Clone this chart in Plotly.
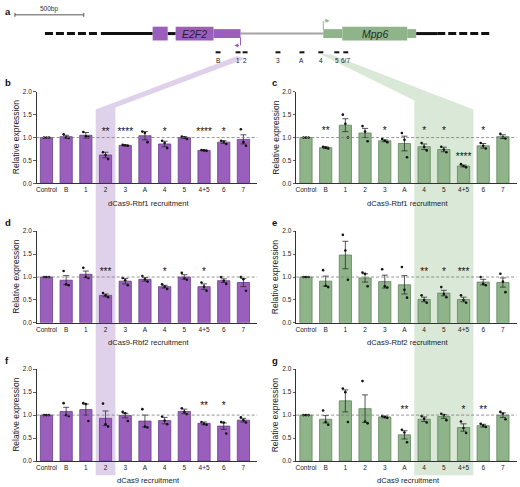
import plotly.graph_objects as go

W, H = 520, 487

categories = ["Control", "B", "1", "2", "3", "A", "4", "5", "4+5", "6", "7"]

# ---- panel b : dCas9-Rbf1, E2F2 ----
b_mean = [1.0, 1.02, 1.05, 0.62, 0.83, 1.04, 0.86, 1.0, 0.72, 0.90, 0.96]
b_sem = [0.0, 0.03, 0.06, 0.06, 0.01, 0.09, 0.06, 0.02, 0.01, 0.03, 0.10]
b_pts = [[1, 1, 1], [1.07, 1.0, 0.99], [1.12, 1.03, 1.01], [0.68, 0.62, 0.53], [0.84, 0.83, 0.82],
         [1.13, 1.10, 0.90], [0.93, 0.88, 0.77], [1.02, 1.0, 0.97], [0.73, 0.72, 0.71],
         [0.93, 0.91, 0.86], [1.18, 0.90, 0.82]]
b_sig = ["", "", "", "**", "****", "", "*", "", "****", "*", ""]

# ---- panel c : dCas9-Rbf1, Mpp6 ----
c_mean = [1.0, 0.78, 1.27, 1.10, 0.93, 0.87, 0.80, 0.74, 0.38, 0.82, 1.02]
c_sem = [0.0, 0.02, 0.14, 0.10, 0.02, 0.16, 0.06, 0.05, 0.02, 0.05, 0.04]
c_pts = [[1, 1, 1], [0.80, 0.78, 0.76], [1.50, 1.30, 1.00], [1.25, 1.13, 0.92], [0.97, 0.93, 0.90],
         [1.10, 0.95, 0.57], [0.88, 0.80, 0.72], [0.80, 0.74, 0.68], [0.42, 0.38, 0.35],
         [0.88, 0.82, 0.76], [1.08, 1.00, 0.98]]
c_sig = ["", "**", "", "", "*", "", "*", "*", "****", "*", ""]

# ---- panel d : dCas9-Rbf2, E2F2 ----
d_mean = [1.0, 0.93, 1.06, 0.60, 0.91, 0.95, 0.79, 1.0, 0.79, 0.92, 0.88]
d_sem = [0.0, 0.10, 0.07, 0.03, 0.06, 0.04, 0.03, 0.05, 0.06, 0.04, 0.09]
d_pts = [[1, 1, 1], [1.13, 0.84, 0.82], [1.20, 1.00, 0.98], [0.65, 0.60, 0.56], [0.98, 0.93, 0.82],
         [1.02, 0.95, 0.90], [0.84, 0.79, 0.74], [1.09, 0.98, 0.94], [0.88, 0.79, 0.70],
         [1.00, 0.92, 0.85], [1.00, 0.95, 0.70]]
d_sig = ["", "", "", "***", "", "", "*", "", "*", "", ""]

# ---- panel e : dCas9-Rbf2, Mpp6 ----
e_mean = [1.0, 0.91, 1.48, 0.98, 0.90, 0.83, 0.51, 0.65, 0.51, 0.89, 0.88]
e_sem = [0.0, 0.11, 0.30, 0.09, 0.14, 0.20, 0.05, 0.06, 0.05, 0.06, 0.10]
e_pts = [[1, 1, 1], [1.15, 0.81, 0.78], [1.92, 1.58, 0.94], [1.10, 1.07, 0.80], [1.17, 0.80, 0.77],
         [1.22, 0.72, 0.55], [0.60, 0.50, 0.44], [0.78, 0.63, 0.56], [0.60, 0.50, 0.44],
         [1.00, 0.85, 0.82], [1.07, 0.90, 0.67]]
e_sig = ["", "", "", "", "", "", "**", "*", "***", "", ""]

# ---- panel f : dCas9, E2F2 ----
f_mean = [1.0, 1.08, 1.12, 0.93, 0.99, 0.87, 0.88, 1.08, 0.82, 0.76, 0.89]
f_sem = [0.0, 0.09, 0.12, 0.16, 0.05, 0.13, 0.07, 0.05, 0.03, 0.07, 0.04]
f_pts = [[1, 1, 1], [1.26, 1.00, 0.98], [1.26, 1.24, 0.87], [1.25, 0.80, 0.75], [1.07, 1.04, 0.87],
         [1.13, 0.75, 0.73], [0.97, 0.88, 0.80], [1.15, 1.07, 1.02], [0.85, 0.81, 0.79],
         [0.85, 0.84, 0.60], [0.95, 0.89, 0.84]]
f_sig = ["", "", "", "", "", "", "", "", "**", "*", ""]

# ---- panel g : dCas9, Mpp6 ----
g_mean = [1.0, 0.91, 1.31, 1.14, 0.96, 0.57, 0.91, 0.97, 0.73, 0.77, 1.0]
g_sem = [0.0, 0.08, 0.24, 0.30, 0.02, 0.09, 0.05, 0.04, 0.08, 0.03, 0.05]
g_pts = [[1, 1, 1], [1.10, 0.85, 0.79], [1.58, 1.50, 0.85], [1.74, 0.86, 0.82], [0.98, 0.96, 0.94],
         [0.68, 0.62, 0.41], [0.98, 0.92, 0.84], [1.03, 1.00, 0.89], [0.86, 0.72, 0.61],
         [0.81, 0.77, 0.74], [1.07, 1.03, 0.91]]
g_sig = ["", "", "", "", "", "**", "", "", "*", "**", ""]

y_ticks = [0.0, 0.5, 1.0, 1.5, 2.0]
x_titles = ["dCas9-Rbf1 recruitment", "dCas9-Rbf2 recruitment", "dCas9 recruitment"]

# ---- gene diagram (bp) ----
scale_bp = 500
diagram_span_bp = 3768
dashed_segments = [(319, 710), (3167, 3551)]
black_segments = [(725, 1101), (1210, 1268), (3014, 3167)]
gray_segment = (1739, 2340)
e2f2_thick = [(1101, 1210), (1268, 1543)]
e2f2_thin = [(1543, 1739)]
mpp6_thick = [(2478, 2949)]
mpp6_thin = [(2340, 2478), (2949, 3014)]
e2f2_tss_bp = 1739
mpp6_tss_bp = 2340
probe_names = ["B", "1", "2", "3", "A", "4", "5", "6/7"]
probe_bp = [1576, 1721, 1772, 2011, 2185, 2322, 2438, 2503]

PURPLE = "#9a5fbd"
PURPLE_EDGE = "#6a3d8a"
GREEN = "#8fb48a"
GREEN_EDGE = "#5e875a"
PURPLE_BAND = "#e0d1eb"
GREEN_BAND = "#dae8d7"
FONT = "Liberation Sans, Arial, sans-serif"

def py(px):  # pixel row -> paper y
    return 1 - px / H

def pxx(px):
    return px / W

col_px = [(35.7, 256.7), (295.7, 516.7)]
row_px = [(89.0, 182.0), (230.5, 323.5), (370.5, 463.7)]
xr = [-0.5, 10.7]

panels = [
    ("b", b_mean, b_sem, b_pts, b_sig, 0, 0, PURPLE, PURPLE_EDGE, 1.11, {}),
    ("c", c_mean, c_sem, c_pts, c_sig, 0, 1, GREEN, GREEN_EDGE, 1.14, {8: 0.57}),
    ("d", d_mean, d_sem, d_pts, d_sig, 1, 0, PURPLE, PURPLE_EDGE, 1.10, {}),
    ("e", e_mean, e_sem, e_pts, e_sig, 1, 1, GREEN, GREEN_EDGE, 1.09, {}),
    ("f", f_mean, f_sem, f_pts, f_sig, 2, 0, PURPLE, PURPLE_EDGE, 1.19, {}),
    ("g", g_mean, g_sem, g_pts, g_sig, 2, 1, GREEN, GREEN_EDGE, 1.10, {}),
]

fig = go.Figure()
shapes = []
annotations = []
offsets = [-0.13, 0.0, 0.13]
idx = list(range(len(categories)))

for i, (lab, mean, sem, pts, sig, row, col, colr, edge, sig_y, sig_override) in enumerate(panels):
    n = "" if i == 0 else str(i + 1)
    xa, ya = "x" + n, "y" + n
    fig.add_trace(go.Bar(
        x=idx, y=mean, width=0.62, xaxis=xa, yaxis=ya,
        marker=dict(color=colr, line=dict(color=edge, width=0.8)),
        error_y=dict(type="data", array=sem, color="#2b2b2b", thickness=0.8, width=3),
        showlegend=False, hoverinfo="skip"))
    px_, py_ = [], []
    for k, vals in enumerate(pts):
        for j, v in enumerate(vals):
            px_.append(k + offsets[j])
            py_.append(v)
    fig.add_trace(go.Scatter(x=px_, y=py_, mode="markers", xaxis=xa, yaxis=ya,
                             marker=dict(color="#111111", size=2.6), showlegend=False, hoverinfo="skip"))
    sx, sy, st = [], [], []
    for k, s in enumerate(sig):
        if s:
            sx.append(k)
            sy.append(sig_override.get(k, sig_y))
            st.append(s)
    fig.add_trace(go.Scatter(x=sx, y=sy, mode="text", text=st, textposition="middle center",
                             textfont=dict(family=FONT, size=10, color="#111111"),
                             xaxis=xa, yaxis=ya, showlegend=False, hoverinfo="skip"))
    x0p, x1p = col_px[col]
    y0p, y1p = row_px[row]
    fig.layout["xaxis" + n] = dict(
        domain=[pxx(x0p), pxx(x1p)], range=xr, anchor=ya, tickmode="array",
        tickvals=idx, ticktext=categories, ticks="", showline=True, linecolor="#333333",
        linewidth=1, showgrid=False, zeroline=False, fixedrange=True,
        tickfont=dict(family=FONT, size=6.5, color="#222222"))
    fig.layout["yaxis" + n] = dict(
        domain=[py(y1p), py(y0p)], range=[0, 2.0], anchor=xa, tickmode="array",
        tickvals=y_ticks, ticktext=["%.1f" % t for t in y_ticks], ticks="outside",
        ticklen=2.5, tickwidth=0.8, tickcolor="#333333", showline=True, linecolor="#333333",
        linewidth=1, showgrid=False, zeroline=False, fixedrange=True,
        tickfont=dict(family=FONT, size=6.5, color="#222222"))
    shapes.append(dict(type="line", xref=xa + " domain", yref=ya, x0=0, x1=1, y0=1, y1=1,
                       line=dict(color="#7a7a7a", width=0.8, dash="3px,2px"), layer="above"))
    # axis titles and panel letters
    annotations.append(dict(text="Relative expression", textangle=-90, xref="paper", yref="paper",
                            x=pxx(x0p - 21), y=py((y0p + y1p) / 2), xanchor="center", yanchor="middle",
                            showarrow=False, font=dict(family=FONT, size=8.5, color="#222222")))
    annotations.append(dict(text=x_titles[row], xref="paper", yref="paper",
                            x=pxx((x0p + x1p) / 2 + 2), y=py(y1p + 20), xanchor="center", yanchor="middle",
                            showarrow=False, font=dict(family=FONT, size=7.6, color="#222222")))
    annotations.append(dict(text="<b>%s</b>" % lab, xref="paper", yref="paper",
                            x=pxx(2 if col == 0 else 270), y=py(y0p - 9), xanchor="left", yanchor="middle",
                            showarrow=False, font=dict(family=FONT, size=9.5, color="#111111")))

# ---- overlay axis for gene diagram ----
fig.add_trace(go.Scatter(x=[0], y=[0], xaxis="x7", yaxis="y7", mode="markers",
                         marker=dict(opacity=0), showlegend=False, hoverinfo="skip"))
fig.layout["xaxis7"] = dict(domain=[0, 1], range=[0, diagram_span_bp], anchor="y7", visible=False, fixedrange=True)
fig.layout["yaxis7"] = dict(domain=[0, 1], range=[H, 0], anchor="x7", visible=False, fixedrange=True)

LINE_Y = 30
for a, b in dashed_segments:
    shapes.append(dict(type="line", xref="x7", yref="y7", x0=a, x1=b, y0=LINE_Y, y1=LINE_Y,
                       line=dict(color="#111111", width=3, dash="8px,3px")))
for a, b in black_segments:
    shapes.append(dict(type="line", xref="x7", yref="y7", x0=a, x1=b, y0=LINE_Y, y1=LINE_Y,
                       line=dict(color="#111111", width=3)))
shapes.append(dict(type="line", xref="x7", yref="y7", x0=gray_segment[0], x1=gray_segment[1],
                   y0=LINE_Y, y1=LINE_Y, line=dict(color="#a3a3a3", width=2)))
for segs, h, c in [(e2f2_thick, 7, PURPLE), (e2f2_thin, 4.5, PURPLE), (mpp6_thick, 7, GREEN), (mpp6_thin, 4.5, GREEN)]:
    for a, b in segs:
        shapes.append(dict(type="rect", xref="x7", yref="y7", x0=a, x1=b, y0=LINE_Y - h, y1=LINE_Y + h,
                           fillcolor=c, line=dict(width=0)))
# TSS arrows
shapes.append(dict(type="line", xref="x7", yref="y7", x0=e2f2_tss_bp, x1=e2f2_tss_bp, y0=34, y1=42,
                   line=dict(color=PURPLE, width=1)))
annotations.append(dict(x=e2f2_tss_bp - 45, y=42, ax=e2f2_tss_bp, ay=42, xref="x7", yref="y7",
                        axref="x7", ayref="y7", showarrow=True, arrowhead=2, arrowsize=0.8,
                        arrowwidth=1, arrowcolor=PURPLE, text=""))
shapes.append(dict(type="line", xref="x7", yref="y7", x0=mpp6_tss_bp, x1=mpp6_tss_bp, y0=26, y1=17,
                   line=dict(color=GREEN, width=1)))
annotations.append(dict(x=mpp6_tss_bp + 45, y=17, ax=mpp6_tss_bp, ay=17, xref="x7", yref="y7",
                        axref="x7", ayref="y7", showarrow=True, arrowhead=2, arrowsize=0.8,
                        arrowwidth=1, arrowcolor=GREEN, text=""))
annotations.append(dict(text="<i>E2F2</i>", x=1405, y=LINE_Y, xref="x7", yref="y7", showarrow=False,
                        xanchor="center", yanchor="middle",
                        font=dict(family=FONT, size=10.5, color="#2a1a38")))
annotations.append(dict(text="<i>Mpp6</i>", x=2713, y=LINE_Y, xref="x7", yref="y7", showarrow=False,
                        xanchor="center", yanchor="middle",
                        font=dict(family=FONT, size=10.5, color="#1e2a1c")))
# probes
for name, c in zip(probe_names, probe_bp):
    shapes.append(dict(type="line", xref="x7", yref="y7", x0=c - 18, x1=c + 18, y0=49, y1=49,
                       line=dict(color="#111111", width=2)))
    annotations.append(dict(text=name, x=c, y=57, xref="x7", yref="y7", showarrow=False,
                            xanchor="center", yanchor="middle",
                            font=dict(family=FONT, size=6.5, color="#222222")))
# scale bar
sb0 = 101
shapes.append(dict(type="line", xref="x7", yref="y7", x0=sb0, x1=sb0 + scale_bp, y0=11, y1=11,
                   line=dict(color="#555555", width=1)))
for xx in (sb0, sb0 + scale_bp):
    shapes.append(dict(type="line", xref="x7", yref="y7", x0=xx, x1=xx, y0=9, y1=13,
                       line=dict(color="#555555", width=1)))
annotations.append(dict(text="500bp", x=sb0 + scale_bp / 2, y=5, xref="x7", yref="y7", showarrow=False,
                        xanchor="center", yanchor="middle",
                        font=dict(family=FONT, size=6.5, color="#333333")))
annotations.append(dict(text="<b>a</b>", xref="paper", yref="paper", x=pxx(2), y=py(8), xanchor="left",
                        yanchor="middle", showarrow=False, font=dict(family=FONT, size=9.5, color="#111111")))

# ---- connector bands (paper coords, below everything) ----
def cat_px(col, v):
    x0p, x1p = col_px[col]
    return x0p + (v - xr[0]) / (xr[1] - xr[0]) * (x1p - x0p)

def bp_px(bp):
    return bp / diagram_span_bp * W

band_bottom = 478
pl, pr = cat_px(0, 2.5), cat_px(0, 3.5)
p_top1, p_top2 = bp_px(probe_bp[1] - 10), bp_px(probe_bp[2] + 10)
purple_path = "M %f %f L %f %f L %f %f L %f %f L %f %f L %f %f Z" % (
    pxx(pl), py(band_bottom), pxx(pl), py(107), pxx(p_top1), py(53), pxx(p_top2), py(55),
    pxx(pr), py(105), pxx(pr), py(band_bottom))
gl, gr = cat_px(1, 5.5), cat_px(1, 8.5)
g_top1, g_top2 = bp_px(probe_bp[5] - 2), bp_px(probe_bp[5] + 70)
green_path = "M %f %f L %f %f L %f %f L %f %f L %f %f L %f %f Z" % (
    pxx(gl), py(band_bottom), pxx(gl), py(98), pxx(g_top1), py(51), pxx(g_top2), py(51),
    pxx(gr), py(107), pxx(gr), py(band_bottom))
shapes.append(dict(type="path", path=purple_path, xref="paper", yref="paper", fillcolor=PURPLE_BAND,
                   line=dict(width=0), layer="below"))
shapes.append(dict(type="path", path=green_path, xref="paper", yref="paper", fillcolor=GREEN_BAND,
                   line=dict(width=0), layer="below"))

fig.update_layout(width=W, height=H, autosize=False, margin=dict(l=0, r=0, t=0, b=0),
                  paper_bgcolor="white", plot_bgcolor="rgba(0,0,0,0)", shapes=shapes,
                  annotations=annotations, font=dict(family=FONT), bargap=0.3)
fig.write_html("out.html", config={"displayModeBar": False, "staticPlot": True},
               post_script="document.body.style.margin='0px';document.body.style.overflow='hidden';")
